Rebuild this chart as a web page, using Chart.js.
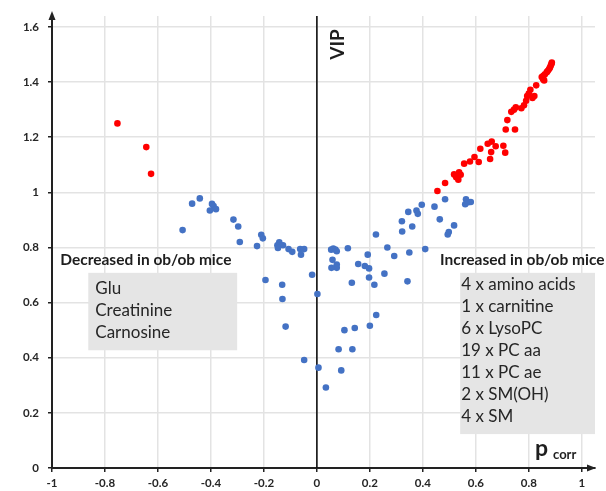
<!DOCTYPE html>
<html><head><meta charset="utf-8">
<script src="https://cdn.jsdelivr.net/npm/chart.js@4"></script>
<style>html,body{margin:0;padding:0;background:#fff}canvas{display:block}</style>
</head><body>
<canvas id="c" width="606" height="491"></canvas>
<script>
const xTicks=[-1,-0.8,-0.6,-0.4,-0.2,0,0.2,0.4,0.6,0.8,1];
const yTicks=[0,0.2,0.4,0.6,0.8,1,1.2,1.4,1.6];

const blueX=[-0.507,-0.471,-0.442,-0.396,-0.390,-0.381,-0.404,-0.315,-0.297,-0.291,-0.210,-0.204,-0.226,-0.142,-0.149,-0.128,-0.147,-0.107,-0.093,-0.063,-0.048,-0.060,-0.018,-0.194,-0.131,-0.130,0.002,-0.118,-0.048,0.006,0.034,0.092,0.082,0.134,0.104,0.143,0.200,0.224,0.054,0.062,0.070,0.075,0.059,0.075,0.075,0.055,0.117,0.132,0.156,0.181,0.192,0.197,0.197,0.217,0.223,0.255,0.266,0.292,0.321,0.322,0.342,0.349,0.345,0.360,0.376,0.381,0.396,0.409,0.444,0.464,0.484,0.498,0.494,0.518,0.560,0.563,0.572,0.581];
const blueY=[0.863,0.959,0.978,0.958,0.950,0.939,0.934,0.901,0.876,0.820,0.846,0.833,0.805,0.819,0.808,0.808,0.798,0.794,0.784,0.794,0.794,0.774,0.701,0.682,0.665,0.613,0.631,0.513,0.392,0.364,0.292,0.354,0.431,0.431,0.500,0.508,0.516,0.555,0.792,0.796,0.792,0.786,0.755,0.738,0.726,0.726,0.797,0.672,0.740,0.733,0.774,0.724,0.691,0.665,0.847,0.705,0.800,0.769,0.895,0.858,0.677,0.782,0.929,0.876,0.934,0.922,0.955,0.794,0.948,0.902,0.975,0.856,0.847,0.880,0.957,0.975,0.964,0.965];

const redX=[-0.753,-0.644,-0.626,0.455,0.484,0.518,0.526,0.537,0.543,0.534,0.530,0.556,0.578,0.595,0.611,0.617,0.645,0.660,0.658,0.654,0.675,0.704,0.711,0.713,0.748,0.719,0.734,0.751,0.772,0.782,0.790,0.794,0.800,0.806,0.814,0.821,0.828,0.849,0.858,0.854,0.855,0.861,0.868,0.872,0.877,0.880,0.883,0.886,0.887,0.744];
const redY=[1.250,1.164,1.067,1.005,1.034,1.065,1.055,1.073,1.064,1.046,1.060,1.104,1.112,1.128,1.110,1.158,1.176,1.184,1.146,1.121,1.167,1.169,1.144,1.228,1.228,1.262,1.292,1.308,1.305,1.316,1.332,1.349,1.358,1.372,1.342,1.349,1.388,1.418,1.406,1.410,1.423,1.428,1.436,1.441,1.447,1.453,1.460,1.466,1.471,1.300];

const decreasedTitle='Decreased in ob/ob mice';
const decreasedItems=['Glu','Creatinine','Carnosine'];
const increasedTitle='Increased in ob/ob mice';
const increasedItems=['4 x amino acids','1 x carnitine','6 x LysoPC','19 x PC aa','11 x PC ae','2 x SM(OH)','4 x SM'];
const vipLabel='VIP';
const pLabel='p';
const corrLabel='corr';

const toPts=(xs,ys)=>xs.map((v,i)=>({x:v,y:ys[i]}));
const FONT='Lato, "Open Sans", sans-serif';

const deco={
  id:'deco',
  beforeDatasetsDraw(chart){
    const {ctx,scales:{x,y},chartArea:a}=chart;
    ctx.save();
    ctx.fillStyle='#e5e5e5';
    const box=(x1,x2,y1,y2)=>{
      const l=x.getPixelForValue(x1), r=x.getPixelForValue(x2);
      const t=y.getPixelForValue(y2), b=y.getPixelForValue(y1);
      ctx.fillRect(l,t,r-l,b-t);
    };
    box(-0.863,-0.301,0.427,0.708);
    box(0.541,1.05,0.123,0.708);
    const x0=x.getPixelForValue(0);
    ctx.strokeStyle='#111'; ctx.lineWidth=1.6;
    ctx.beginPath(); ctx.moveTo(x0,a.top); ctx.lineTo(x0,a.bottom); ctx.stroke();
    ctx.restore();
  },
  afterDraw(chart){
    const {ctx,scales:{x,y},chartArea:a}=chart;
    ctx.save();
    // arrows
    ctx.fillStyle='#222';
    ctx.beginPath(); ctx.moveTo(a.left,a.top-5); ctx.lineTo(a.left-3.5,a.top+4); ctx.lineTo(a.left+3.5,a.top+4); ctx.closePath(); ctx.fill();
    ctx.beginPath(); ctx.moveTo(a.right+1,a.bottom); ctx.lineTo(a.right-8,a.bottom-3.5); ctx.lineTo(a.right-8,a.bottom+3.5); ctx.closePath(); ctx.fill();
    // texts
    ctx.fillStyle='#1e1e1e';
    ctx.textBaseline='alphabetic'; ctx.textAlign='left';
    ctx.font='bold 15.5px '+FONT;
    const ty=y.getPixelForValue(0.708);
    ctx.fillText(decreasedTitle, x.getPixelForValue(-0.969), ty-7.5);
    ctx.fillText(increasedTitle, x.getPixelForValue(0.465), ty-7.5);
    ctx.font='17px '+FONT;
    ctx.fillStyle='#262626';
    const dl=x.getPixelForValue(-0.863);
    decreasedItems.forEach((s,i)=>ctx.fillText(s, dl+7, ty+21.5+i*22));
    const il=x.getPixelForValue(0.541);
    increasedItems.forEach((s,i)=>ctx.fillText(s, il+1, ty+17.5+i*22));
    // p corr
    ctx.fillStyle='#1e1e1e';
    ctx.font='bold 23px '+FONT;
    ctx.fillText(pLabel, 535, 456);
    ctx.font='bold 13px '+FONT;
    ctx.fillText(corrLabel, 553, 458.5);
    // VIP
    ctx.save();
    ctx.translate(x.getPixelForValue(0)+20.5, 44.5);
    ctx.rotate(-Math.PI/2);
    ctx.textAlign='center'; ctx.textBaseline='middle';
    ctx.font='bold 19px '+FONT;
    ctx.fillText(vipLabel,0,0);
    ctx.restore();
    ctx.restore();
  }
};

const fmt=v=>String(Number(Number(v).toFixed(1)));

new Chart(document.getElementById('c'),{
  type:'scatter',
  data:{datasets:[
    {data:toPts(blueX,blueY),backgroundColor:'#4472C4',borderWidth:0,pointRadius:3.3},
    {data:toPts(redX,redY),backgroundColor:'#FF0000',borderWidth:0,pointRadius:3.3}
  ]},
  options:{
    responsive:false,animation:false,
    layout:{padding:{top:8,right:11,left:0,bottom:0}},
    plugins:{legend:{display:false},tooltip:{enabled:false}},
    scales:{
      x:{type:'linear',min:-1,max:1.05,
        afterBuildTicks:s=>{s.ticks=xTicks.map(v=>({value:v}));},
        afterFit:s=>{s.height=23;},
        grid:{color:'#e3e3e3',lineWidth:1.5,tickLength:4,tickColor:'#222',drawTicks:true},
        border:{display:true,color:'#222',width:2},
        ticks:{callback:fmt,color:'#262626',font:{family:FONT,size:11.5,weight:'bold'},padding:4,maxRotation:0,autoSkip:false}
      },
      y:{type:'linear',min:0,max:1.64,
        afterBuildTicks:s=>{s.ticks=yTicks.map(v=>({value:v}));},
        afterFit:s=>{s.width=52;},
        grid:{color:'#e3e3e3',lineWidth:1.5,tickLength:4,tickColor:'#222',drawTicks:true},
        border:{display:true,color:'#222',width:2},
        ticks:{callback:fmt,color:'#262626',font:{family:FONT,size:11.5,weight:'bold'},padding:9,autoSkip:false}
      }
    }
  },
  plugins:[deco]
});
</script>
</body></html>
